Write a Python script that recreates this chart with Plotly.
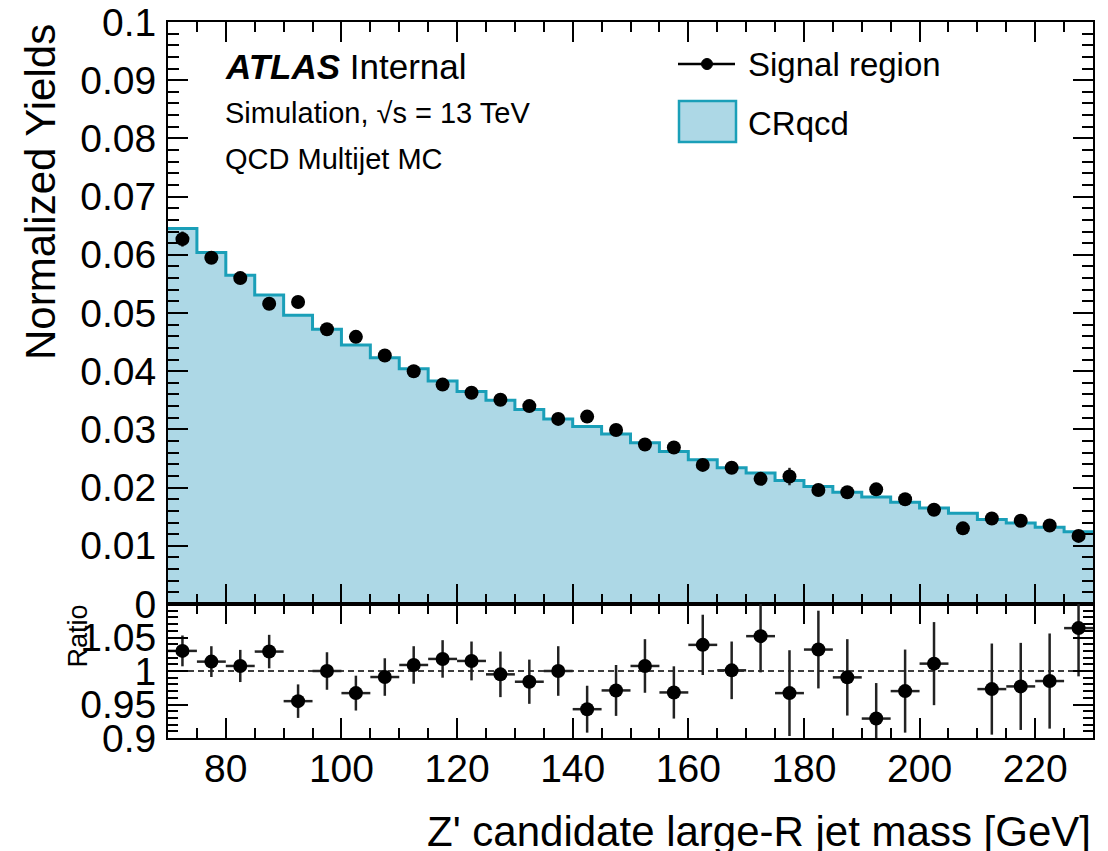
import plotly.graph_objects as go

# Binning: 5 GeV bins from 70 to 230 GeV
bin_edges = [70 + 5 * i for i in range(33)]
bin_centers = [70 + 2.5 + 5 * i for i in range(32)]

# CRqcd normalized yields (filled histogram)
cr_qcd = [0.0645, 0.0604, 0.0565, 0.0531, 0.0496, 0.0472, 0.0445, 0.0423,
          0.0404, 0.0383, 0.0365, 0.0350, 0.0334, 0.0318, 0.0305, 0.0292,
          0.0277, 0.0262, 0.0248, 0.0234, 0.0225, 0.0212, 0.0202, 0.0192,
          0.0184, 0.0175, 0.0165, 0.0156, 0.0145, 0.0139, 0.0132, 0.0124]

# Signal region normalized yields (points) and their uncertainties
signal = [0.0627, 0.0595, 0.0560, 0.0516, 0.0519, 0.0472, 0.0459, 0.0427,
          0.0400, 0.0377, 0.0363, 0.0351, 0.0340, 0.0318, 0.0322, 0.0299,
          0.0274, 0.0269, 0.0239, 0.0234, 0.0215, 0.0219, 0.0196, 0.0192,
          0.0197, 0.0180, 0.0162, 0.0130, 0.0147, 0.0143, 0.0135, 0.0117]
signal_err = [0.0013, 0.0010, 0.0010, 0.0010, 0.0010, 0.0010, 0.0009, 0.0009,
              0.0009, 0.0008, 0.0008, 0.0009, 0.0009, 0.0009, 0.0009, 0.0009,
              0.0009, 0.0009, 0.0009, 0.0009, 0.0010, 0.0015, 0.0010, 0.0010,
              0.0009, 0.0010, 0.0009, 0.0008, 0.0009, 0.0008, 0.0008, 0.0006]

# Ratio panel values and uncertainties
ratio = [1.030, 1.014, 1.0075, 1.029, 0.955, 1.000, 0.967, 0.991,
         1.009, 1.018, 1.015, 0.995, 0.984, 1.000, 0.943, 0.971,
         1.0075, 0.968, 1.039, 1.001, 1.052, 0.967, 1.032, 0.9905,
         0.929, 0.970, 1.011, 1.200, 0.973, 0.977, 0.985, 1.064]
ratio_err = [0.023, 0.023, 0.024, 0.025, 0.025, 0.028, 0.026, 0.028,
             0.028, 0.028, 0.029, 0.034, 0.033, 0.037, 0.035, 0.038,
             0.040, 0.039, 0.045, 0.043, 0.054, 0.064, 0.058, 0.057,
             0.053, 0.062, 0.062, 0.065, 0.068, 0.065, 0.071, 0.072]

# Axis ticks
main_yticks = [0.0, 0.01, 0.02, 0.03, 0.04, 0.05, 0.06, 0.07, 0.08, 0.09, 0.1]
main_ylabels = ["0", "0.01", "0.02", "0.03", "0.04", "0.05", "0.06", "0.07", "0.08", "0.09", "0.1"]
ratio_yticks = [0.9, 0.95, 1.0, 1.05, 1.1]
ratio_ylabels = ["0.9", "0.95", "1", "1.05", ""]
xticks = [80, 100, 120, 140, 160, 180, 200, 220]

FONT = "Liberation Sans, Arial, Helvetica, sans-serif"
HIST_FILL = "#add8e6"
HIST_LINE = "#1a9fb8"

# Figure geometry (pixels)
W, H = 1108, 851
ML, MR, MT, MB = 168, 15, 22, 113
PW, PH = W - ML - MR, H - MT - MB
split = 134 / PH  # ratio panel height fraction


def px(xp):
    return (xp - ML) / PW


def py(yp):
    return (H - MB - yp) / PH


fig = go.Figure()

# CRqcd histogram as a filled step line
fig.add_trace(go.Scatter(
    x=bin_edges, y=cr_qcd + [cr_qcd[-1]],
    mode="lines", line=dict(shape="hv", color=HIST_LINE, width=3),
    fill="tozeroy", fillcolor=HIST_FILL,
    xaxis="x", yaxis="y", showlegend=False, hoverinfo="skip"))

# Signal region points
fig.add_trace(go.Scatter(
    x=bin_centers, y=signal, mode="markers",
    marker=dict(color="black", size=14),
    error_y=dict(type="data", array=signal_err, color="#222222", thickness=2.5, width=0),
    xaxis="x", yaxis="y", showlegend=False))

# Ratio points
fig.add_trace(go.Scatter(
    x=bin_centers, y=ratio, mode="markers",
    marker=dict(color="black", size=14),
    error_y=dict(type="data", array=ratio_err, color="#222222", thickness=2.5, width=0),
    error_x=dict(type="constant", value=2.5, color="#222222", thickness=2.5, width=0),
    xaxis="x2", yaxis="y2", showlegend=False, cliponaxis=True))

axis_common = dict(
    showline=True, linecolor="black", linewidth=2, mirror="allticks",
    ticks="inside", ticklen=20, tickwidth=1.5, tickcolor="black",
    showgrid=False, zeroline=False, automargin=False,
    tickfont=dict(family=FONT, size=39, color="black"),
)

fig.update_layout(
    width=W, height=H,
    margin=dict(l=ML, r=MR, t=MT, b=MB, pad=0, autoexpand=False),
    paper_bgcolor="white", plot_bgcolor="white",
    font=dict(family=FONT, color="black"),
    xaxis=dict(
        **axis_common, domain=[0, 1], anchor="y", range=[70, 230],
        tickvals=xticks, showticklabels=False,
        minor=dict(dtick=5, tick0=70, ticks="inside", ticklen=10, tickwidth=1.5, tickcolor="black"),
    ),
    yaxis=dict(
        **axis_common, domain=[split, 1], anchor="x", range=[0, 0.1],
        tickvals=main_yticks, ticktext=main_ylabels, ticklabelstandoff=2,
        minor=dict(dtick=0.002, tick0=0, ticks="inside", ticklen=11, tickwidth=1.5, tickcolor="black"),
    ),
    xaxis2=dict(
        **axis_common, domain=[0, 1], anchor="y2", range=[70, 230], matches="x",
        tickvals=xticks, ticklabelstandoff=-5,
        minor=dict(dtick=5, tick0=70, ticks="inside", ticklen=10, tickwidth=1.5, tickcolor="black"),
    ),
    yaxis2=dict(
        **axis_common, domain=[0, split], anchor="x2", range=[0.9, 1.1],
        tickvals=ratio_yticks, ticktext=ratio_ylabels, ticklabelstandoff=2,
        minor=dict(dtick=0.01, tick0=0.9, ticks="inside", ticklen=10, tickwidth=1.5, tickcolor="black"),
    ),
)

# Unity reference line in the ratio panel
fig.add_shape(type="line", xref="x2", yref="y2", x0=70, x1=230, y0=1, y1=1,
              line=dict(color="black", width=1.5, dash="6px,4px"), layer="below")

# Axis titles
fig.add_annotation(text="Normalized Yields", textangle=-90, xref="paper", yref="paper",
                   x=px(40), y=1.0, xanchor="center", yanchor="top", showarrow=False,
                   font=dict(family=FONT, size=42, color="black"))
fig.add_annotation(text="Ratio", textangle=-90, xref="paper", yref="paper",
                   x=px(77), y=py(603), xanchor="center", yanchor="top", showarrow=False,
                   font=dict(family=FONT, size=27, color="black"))
fig.add_annotation(text="Z' candidate large-R jet mass [GeV]", xref="paper", yref="paper",
                   x=1.0, y=py(806), xanchor="right", yanchor="top", showarrow=False,
                   font=dict(family=FONT, size=42, color="black"))

# ATLAS label block
fig.add_annotation(text="<b><i>ATLAS</i></b> Internal", xref="paper", yref="paper",
                   x=px(223), y=py(66), xanchor="left", yanchor="middle", showarrow=False,
                   font=dict(family=FONT, size=35, color="black"))
fig.add_annotation(text="Simulation, √s = 13 TeV", xref="paper", yref="paper",
                   x=px(223), y=py(113), xanchor="left", yanchor="middle", showarrow=False,
                   font=dict(family=FONT, size=29, color="black"))
fig.add_annotation(text="QCD Multijet MC", xref="paper", yref="paper",
                   x=px(223), y=py(159), xanchor="left", yanchor="middle", showarrow=False,
                   font=dict(family=FONT, size=29, color="black"))

# Legend: Signal region entry
fig.add_shape(type="line", xref="paper", yref="paper", x0=px(678), x1=px(735),
              y0=py(64), y1=py(64), line=dict(color="black", width=2.5))
fig.add_shape(type="circle", xref="paper", yref="paper", xsizemode="pixel", ysizemode="pixel",
              xanchor=px(707), yanchor=py(64), x0=-5.5, x1=5.5, y0=-5.5, y1=5.5,
              fillcolor="black", line=dict(color="black", width=1))
fig.add_annotation(text="Signal region", xref="paper", yref="paper",
                   x=px(746), y=py(65), xanchor="left", yanchor="middle", showarrow=False,
                   font=dict(family=FONT, size=33, color="black"))

# Legend: CRqcd entry
fig.add_shape(type="rect", xref="paper", yref="paper", x0=px(679), x1=px(736),
              y0=py(142), y1=py(101), fillcolor=HIST_FILL, line=dict(color=HIST_LINE, width=2.5))
fig.add_annotation(text="CRqcd", xref="paper", yref="paper",
                   x=px(746), y=py(123), xanchor="left", yanchor="middle", showarrow=False,
                   font=dict(family=FONT, size=33, color="black"))

fig.write_html("out.html")
